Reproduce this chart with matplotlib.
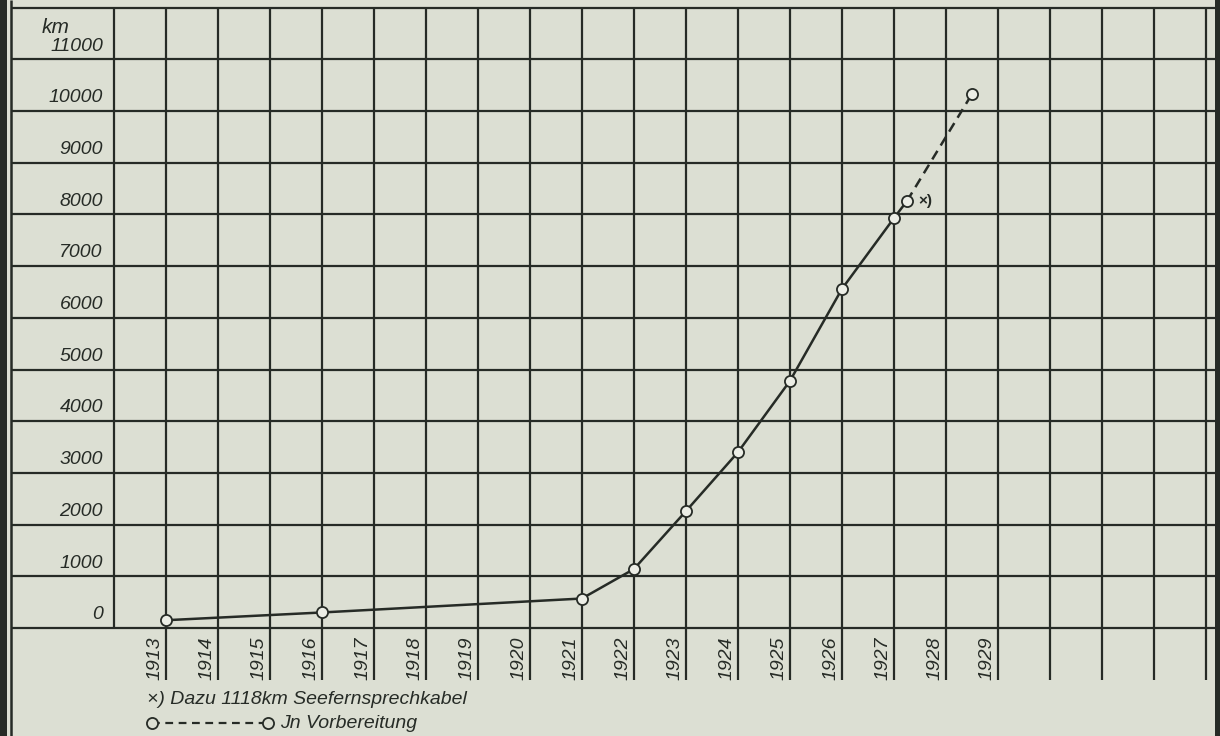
import matplotlib.pyplot as plt

# Fernkabelnetz, Laenge in km
years_main = [1913, 1916, 1921, 1922, 1923, 1924, 1925, 1926, 1927, 1927.25]
km_main = [150, 300, 570, 1140, 2260, 3400, 4780, 6560, 7930, 8260]
# in Vorbereitung (gestrichelt)
years_plan = [1927.25, 1928.5]
km_plan = [8260, 10330]

km_ticks = list(range(0, 12000, 1000))
year_labels = list(range(1913, 1930))
year_grid = list(range(1913, 1934))

paper = '#dcdfd3'
ink = '#262b26'
fam = ['Liberation Sans', 'DejaVu Sans']

fig = plt.figure(figsize=(12.2, 7.36), dpi=100, facecolor=paper)
ax = fig.add_axes([0, 0, 1, 1])
ax.set_xlim(1909.81, 1933.27)
ax.set_ylim(-2090, 12150)
ax.axis('off')

x_left, x_right = 1910.02, 1933.17

# Rahmen
ax.axvspan(1909.81, 1909.81 + 7 / 52, color=ink, lw=0)
ax.axvspan(x_right, 1933.27, color=ink, lw=0)
ax.vlines(x_left, -2090, 12150, color=ink, lw=1.8)

# Gitter
ax.hlines(km_ticks + [12000], x_left, x_right, color=ink, lw=1.6)
ax.vlines(1912, 0, 12000, color=ink, lw=1.6)
ax.vlines(year_grid, -1000, 12000, color=ink, lw=1.6)

# Beschriftung
for v in km_ticks:
    ax.text(1911.79, v + 170, str(v), ha='right', va='baseline',
            fontsize=14, style='italic', family=fam, color=ink)
ax.text(1910.62, 11510, 'km', ha='left', va='baseline',
        fontsize=15, style='italic', family=fam, color=ink)

for yr in year_labels:
    ax.text(yr - 0.04, -1005, str(yr), rotation=90, ha='right', va='bottom',
            fontsize=14, style='italic', family=fam, color=ink)

# Kurve
ax.plot(years_main, km_main, color=ink, lw=1.8, zorder=3)
ax.plot(years_plan, km_plan, color=ink, lw=1.8, ls=(0, (4, 2.5)), zorder=3)
ax.plot(years_main + years_plan[1:], km_main + km_plan[1:], 'o', ms=8,
        mfc='#eceee6', mec=ink, mew=1.3, zorder=4)
ax.annotate('×)', (years_plan[0], km_plan[0]), xytext=(8, 0),
            textcoords='offset points', ha='left', va='center',
            fontsize=11, fontweight='bold', family=fam, color=ink)

# Legende
ax.text(147 / 1220, 1 - 700 / 736, '×) Dazu 1118km Seefernsprechkabel',
        transform=ax.transAxes, ha='left', va='center',
        fontsize=14, style='italic', family=fam, color=ink)
ax.plot([152 / 1220, 268 / 1220], [1 - 723 / 736] * 2, transform=ax.transAxes,
        color=ink, lw=1.6, ls=(0, (3.5, 2.5)), marker='o', ms=8,
        mfc=paper, mec=ink, mew=1.3, clip_on=False)
ax.text(280 / 1220, 1 - 723 / 736, 'Jn Vorbereitung',
        transform=ax.transAxes, ha='left', va='center',
        fontsize=14, style='italic', family=fam, color=ink)

fig.savefig('out.png', dpi=100, facecolor=paper)
